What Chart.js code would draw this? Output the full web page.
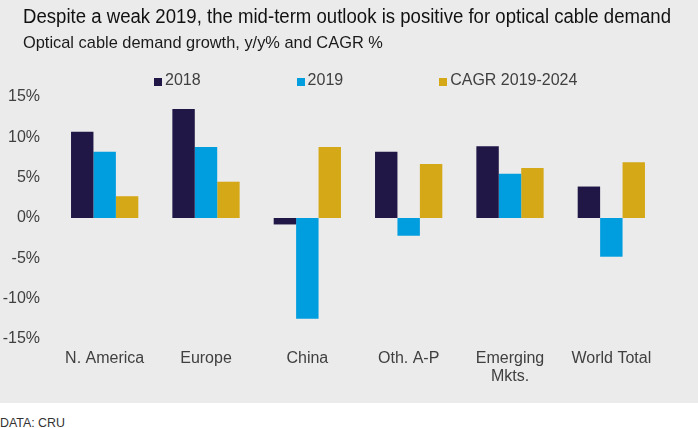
<!DOCTYPE html>
<html>
<head>
<meta charset="utf-8">
<script src="https://cdn.jsdelivr.net/npm/chart.js@4.4.1/dist/chart.umd.min.js"></script>
<style>
  body {
    margin: 0;
    width: 698px;
    height: 428px;
    overflow: hidden;
    background: #ffffff;
    font-family: "Liberation Sans", Arial, sans-serif;
  }
  #panel {
    position: relative;
    width: 698px;
    height: 403px;
    background: #ebebeb;
  }
  #chart {
    position: absolute;
    left: 0;
    top: 0;
  }
  .txt {
    position: absolute;
    white-space: nowrap;
    line-height: 1;
  }
  #title {
    left: 23px;
    top: 6px;
    font-size: 20px;
    color: #111111;
    transform-origin: left top;
  }
  #subtitle {
    left: 23px;
    top: 34px;
    font-size: 16.4px;
    color: #1a1a1a;
  }
  #legend {
    position: absolute;
    left: 154px;
    top: 72px;
    display: flex;
    gap: 96px;
    font-size: 16px;
    line-height: 1;
    color: #404040;
  }
  .item {
    display: flex;
    align-items: flex-end;
  }
  .swatch {
    width: 8px;
    height: 8px;
    margin-right: 3px;
    margin-bottom: 2px;
  }
  #source {
    left: 0;
    top: 417px;
    font-size: 12.4px;
    color: #333333;
  }
</style>
</head>
<body>
<div id="panel">
  <canvas id="chart" width="698" height="403"></canvas>
  <div id="title" class="txt">Despite a weak 2019, the mid-term outlook is positive for optical cable demand</div>
  <div id="subtitle" class="txt">Optical cable demand growth, y/y% and CAGR %</div>
  <div id="legend"></div>
</div>
<div id="source" class="txt">DATA: CRU</div>

<script>
let categories = ["N. America", "Europe", "China", "Oth. A-P", ["Emerging", "Mkts."], "World Total"];
let seriesNames = ["2018", "2019", "CAGR 2019-2024"];
let growth2018 = [10.7, 13.5, -0.8, 8.2, 8.9, 3.9];
let growth2019 = [8.2, 8.8, -12.5, -2.2, 5.5, -4.8];
let cagr2019to2024 = [2.7, 4.5, 8.8, 6.7, 6.2, 6.9];
let yMin = -15;
let yMax = 15;
let yStep = 5;

let colors = ["#211747", "#009ddf", "#d5a817"];

// the title in the picture is set a little narrower than Arial
let titleElem = document.getElementById("title");
let titleWidth = 648;
titleElem.style.transform = "scaleX(" + titleWidth / titleElem.offsetWidth + ")";

const ctx = document.getElementById("chart");

let chart = new Chart(ctx, {
  type: "bar",
  data: {
    labels: categories,
    datasets: [
      { label: seriesNames[0], data: growth2018, backgroundColor: colors[0] },
      { label: seriesNames[1], data: growth2019, backgroundColor: colors[1] },
      { label: seriesNames[2], data: cagr2019to2024, backgroundColor: colors[2] },
    ],
  },
  options: {
    responsive: false,
    animation: false,
    devicePixelRatio: 1,
    layout: {
      padding: { top: 97, right: 36, bottom: 0, left: 0 },
    },
    datasets: {
      bar: {
        barPercentage: 1,
        categoryPercentage: 0.664,
      },
    },
    plugins: {
      legend: { display: false },
      tooltip: { enabled: false },
    },
    scales: {
      x: {
        grid: { display: false, drawTicks: false },
        border: { display: false },
        ticks: {
          color: "#404040",
          padding: 10,
          maxRotation: 0,
          autoSkip: false,
          font: { family: "'Liberation Sans', Arial, sans-serif", size: 16, lineHeight: 1.15 },
        },
        afterFit: function (scale) {
          scale.height = 64;
        },
      },
      y: {
        min: yMin,
        max: yMax,
        grid: { display: false, drawTicks: false },
        border: { display: false },
        ticks: {
          stepSize: yStep,
          color: "#404040",
          padding: 14,
          font: { family: "'Liberation Sans', Arial, sans-serif", size: 16 },
          callback: function (value) {
            return value + "%";
          },
        },
        afterFit: function (scale) {
          scale.width = 54;
        },
      },
    },
  },
});

// legend drawn in html so the wide gaps between items can be kept
let legendBox = document.getElementById("legend");
chart.data.datasets.forEach(function (ds) {
  let item = document.createElement("div");
  item.className = "item";
  let swatch = document.createElement("span");
  swatch.className = "swatch";
  swatch.style.background = ds.backgroundColor;
  let label = document.createElement("span");
  label.textContent = ds.label;
  item.append(swatch, label);
  legendBox.append(item);
});
</script>
</body>
</html>
